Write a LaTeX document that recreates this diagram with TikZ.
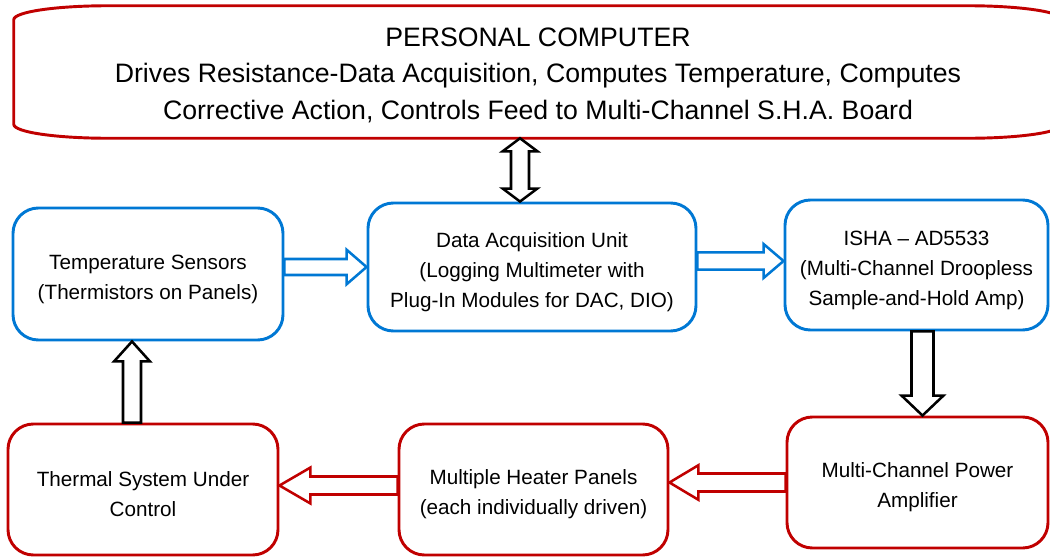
\documentclass[tikz,border=0pt]{standalone}
\usepackage{fontspec}
\setmainfont{Liberation Sans}
\usetikzlibrary{calc}

\definecolor{boxblue}{RGB}{0,120,212}
\definecolor{boxred}{RGB}{192,0,0}

% pushes the first line down a little
\newcommand{\firstline}{\rule{0pt}{18.8pt}}

\tikzset{
    box/.style={rectangle, rounded corners=19pt, line width=2.2pt, inner sep=0pt, align=center,
        font=\fontsize{15.5}{22.5}\selectfont},
    bluebox/.style={box, draw=boxblue},
    redbox/.style={box, draw=boxred},
    fat arrow/.style n args={3}{line width=1.9pt, fill=white, line join=miter, to path={
        -- ($(\tikztostart)!#1!90:(\tikztotarget)$)
        -- ($(\tikztotarget)!#3!(\tikztostart)!#1!-90:(\tikztostart)$)
        -- ($(\tikztotarget)!#3!(\tikztostart)!#2!-90:(\tikztostart)$)
        -- (\tikztotarget)
        -- ($(\tikztotarget)!#3!(\tikztostart)!#2!90:(\tikztostart)$)
        -- ($(\tikztotarget)!#3!(\tikztostart)!#1!90:(\tikztostart)$)
        -- ($(\tikztostart)!#1!-90:(\tikztotarget)$)
        -- cycle}},
    fat double arrow/.style n args={3}{line width=1.9pt, fill=white, line join=miter, to path={
        -- ($(\tikztostart)!#3!(\tikztotarget)!#2!90:(\tikztotarget)$)
        -- ($(\tikztostart)!#3!(\tikztotarget)!#1!90:(\tikztotarget)$)
        -- ($(\tikztotarget)!#3!(\tikztostart)!#1!-90:(\tikztostart)$)
        -- ($(\tikztotarget)!#3!(\tikztostart)!#2!-90:(\tikztostart)$)
        -- (\tikztotarget)
        -- ($(\tikztotarget)!#3!(\tikztostart)!#2!90:(\tikztostart)$)
        -- ($(\tikztotarget)!#3!(\tikztostart)!#1!90:(\tikztostart)$)
        -- ($(\tikztostart)!#3!(\tikztotarget)!#1!-90:(\tikztotarget)$)
        -- ($(\tikztostart)!#3!(\tikztotarget)!#2!-90:(\tikztotarget)$)
        -- cycle}},
}

\begin{document}
\begin{tikzpicture}[x=0.75pt, y=-0.75pt]
    \useasboundingbox (0,0) rectangle (1050,557);
    \clip (0,0) rectangle (1050,557);

    % Computer
    \node[inner sep=0pt, minimum width=786pt, minimum height=99pt, align=center, font=\fontsize{20}{27.4}\selectfont] (pc) at (538,72)
        {\rule{0pt}{19pt}PERSONAL COMPUTER\\Drives Resistance-Data Acquisition, Computes Temperature, Computes\\Corrective Action, Controls Feed to Multi-Channel S.H.A. Board};
    \draw[boxred, line width=2.2pt]
        ($(pc.north west)+(0,14)$) -- ($(pc.south west)+(0,-14)$)
        .. controls ($(pc.south west)+(0,-6)$) and ($(pc.south west)+(43,0)$) .. ($(pc.south west)+(95,0)$)
        -- ($(pc.south east)+(-95,0)$)
        .. controls ($(pc.south east)+(-43,0)$) and ($(pc.south east)+(0,-6)$) .. ($(pc.south east)+(0,-14)$)
        -- ($(pc.north east)+(0,14)$)
        .. controls ($(pc.north east)+(0,6)$) and ($(pc.north east)+(-43,0)$) .. ($(pc.north east)+(-95,0)$)
        -- ($(pc.north west)+(95,0)$)
        .. controls ($(pc.north west)+(43,0)$) and ($(pc.north west)+(0,6)$) .. cycle;

    % Middle row
    \node[bluebox, minimum width=202.5pt, minimum height=99pt] (temp) at (148,274)
        {\firstline Temperature Sensors\\(Thermistors on Panels)};
    \node[bluebox, minimum width=246pt, minimum height=96pt] (daq) at (532,267)
        {\firstline Data Acquisition Unit\\(Logging Multimeter with\\Plug-In Modules for DAC, DIO)};
    \node[bluebox, minimum width=197.25pt, minimum height=97.5pt] (isha) at (916.5,265)
        {\firstline ISHA -- AD5533\\(Multi-Channel Droopless\\Sample-and-Hold Amp)};

    % Bottom row
    \node[redbox, minimum width=202.5pt, minimum height=98.25pt] (thermal) at (143,489.5)
        {\firstline Thermal System Under\\Control};
    \node[redbox, minimum width=201.75pt, minimum height=98.25pt] (heater) at (533.5,489.5)
        {\firstline Multiple Heater Panels\\(each individually driven)};
    \node[redbox, minimum width=195.75pt, minimum height=98.25pt] (power) at (917.5,482.5)
        {\firstline Multi-Channel Power\\Amplifier};

    % Arrows
    \coordinate (daq-top) at ($(daq.north)+(-12,0)$);
    \coordinate (daq-out) at ($(daq.east)+(0,-6)$);
    \coordinate (isha-out) at ($(isha.south)+(6,0)$);
    \coordinate (heater-out) at ($(heater.west)+(0,-4)$);
    \coordinate (thermal-top) at ($(thermal.north)+(-11,0)$);

    \draw[fat double arrow={6.75pt}{13pt}{9.75pt}, draw=black] (daq-top |- pc.south) to (daq-top);
    \draw[fat arrow={6pt}{13pt}{15pt}, draw=boxblue] (temp.east |- daq.west) to (daq.west);
    \draw[fat arrow={6.4pt}{12.75pt}{15pt}, draw=boxblue] (daq-out) to (daq-out -| isha.west);
    \draw[fat arrow={8.25pt}{15.75pt}{15pt}, draw=black] (isha-out) to (isha-out |- power.north);
    \draw[fat arrow={6.75pt}{13pt}{21.75pt}, draw=boxred] (power.west) to (power.west -| heater.east);
    \draw[fat arrow={6.75pt}{13.5pt}{23.25pt}, draw=boxred] (heater-out) to (heater-out -| thermal.east);
    \draw[fat arrow={6.75pt}{13.5pt}{15pt}, draw=black] (thermal-top) to (thermal-top |- temp.south);
\end{tikzpicture}
\end{document}
